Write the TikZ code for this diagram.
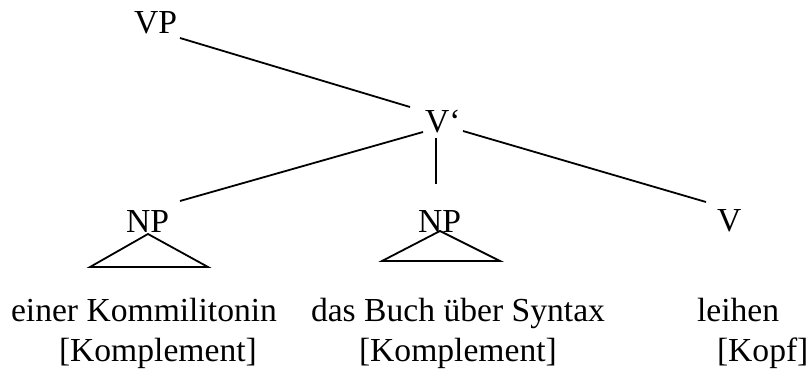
\documentclass[tikz,border=0pt]{standalone}
\usepackage{fontspec}
\setmainfont{Liberation Serif}
\begin{document}
\begin{tikzpicture}[x=1pt,y=-1pt,
  lab/.style={inner sep=0pt,outer sep=0pt,anchor=base west,font=\fontsize{33.6}{40}\selectfont},
  edge/.style={line width=1.8pt,line cap=butt},
  tri/.style={line width=1.8pt,line join=miter}]
\useasboundingbox (0,0) rectangle (809,372);
% category labels
\node[lab] (vp)  at (134,33)  {VP};
\node[lab] (vb)  at (425,132) {V‘};
\node[lab] (np1) at (126,232) {NP};
\node[lab] (np2) at (418,232) {NP};
\node[lab] (v)   at (717,231) {V};
% words
\node[lab] (w1a) at (11,321)  {einer Kommilitonin};
\node[lab] (w1b) at (59,361)  {[Komplement]};
\node[lab] (w2a) at (311,321) {das Buch über Syntax};
\node[lab] (w2b) at (359,361) {[Komplement]};
\node[lab] (w3a) at (697,321) {leihen};
\node[lab] (w3b) at (717,361) {[Kopf]};
% connector end points
\coordinate (vp-out) at (180,38);
\coordinate (vb-in)  at (410,107);
\coordinate (vb-l)   at (423,132);
\coordinate (vb-m)   at (436,138);
\coordinate (vb-r)   at (463,131);
\coordinate (np1-in) at (180,201);
\coordinate (np2-in) at (436,184);
\coordinate (v-in)   at (706,202);
\coordinate (t1-top) at (148,234);
\coordinate (t1-l)   at (90,267);
\coordinate (t1-r)   at (208,267);
\coordinate (t2-top) at (440,231);
\coordinate (t2-l)   at (382,261);
\coordinate (t2-r)   at (500,261);
% branches
\draw[edge] (vp-out) -- (vb-in);
\draw[edge] (vb-l) -- (np1-in);
\draw[edge] (vb-m) -- (np2-in);
\draw[edge] (vb-r) -- (v-in);
% triangles
\draw[tri] (t1-top) -- (t1-l) -- (t1-r) -- cycle;
\draw[tri] (t2-top) -- (t2-l) -- (t2-r) -- cycle;
\end{tikzpicture}
\end{document}
